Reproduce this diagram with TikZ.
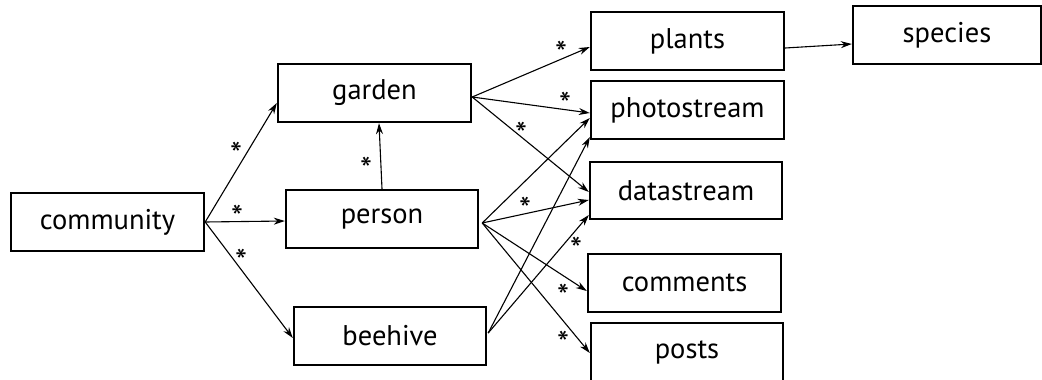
\documentclass[tikz,border=0pt]{standalone}
\usepackage{fontspec}
\setmainfont{PT Sans}
\usetikzlibrary{arrows.meta}
\tikzset{
  box/.style={draw=black, line width=2.4pt, rectangle, inner sep=0pt,
    minimum height=58pt, font=\fontsize{28.5}{32}\selectfont, anchor=center},
  conn/.style={line width=1.1pt, -{Stealth[length=11pt,width=7pt]}},
  star/.style={inner sep=0pt, font=\fontsize{34}{38}\selectfont, yshift=-6pt},
}
\begin{document}
\begin{tikzpicture}[x=1pt,y=-1pt]
\useasboundingbox (0,0) rectangle (1042,380);
\clip (0,0) rectangle (1042,380);
% boxes
\node[box, minimum width=193pt] (community) at (107.5,222) {community};
\node[box, minimum width=193pt] (garden) at (374.5,93) {garden};
\node[box, minimum width=192pt] (person) at (382,219) {person};
\node[box, minimum width=192pt] (beehive) at (390,336) {beehive};
\node[box, minimum width=193pt] (plants) at (687.5,41) {plants};
\node[box, minimum width=193pt] (photostream) at (687.5,110) {photostream};
\node[box, minimum width=192pt, minimum height=57pt] (datastream) at (686,190.5) {datastream};
\node[box, minimum width=193pt] (comments) at (684.5,283) {comments};
\node[box, minimum width=192pt] (posts) at (687,352) {posts};
\node[box, minimum width=188pt] (species) at (947,35) {species};
% connectors
\draw[conn] (community.east) -- ([yshift=-10pt]garden.west);
\draw[conn] (community.east) -- ([yshift=-2pt]person.west);
\draw[conn] (community.east) -- ([yshift=-2pt]beehive.west);
\draw[conn] (person.north) -- ([xshift=4.5pt]garden.south);
\draw[conn] ([yshift=-4pt]garden.east) -- ([yshift=-6pt]plants.west);
\draw[conn] ([yshift=-4pt]garden.east) -- ([yshift=-3pt]photostream.west);
\draw[conn] ([yshift=-4pt]garden.east) -- ([yshift=-1.5pt]datastream.west);
\coordinate (pe) at ([xshift=3pt,yshift=-4pt]person.east);
\draw[conn] (pe) -- ([yshift=-8pt]photostream.west);
\draw[conn] (pe) -- ([yshift=-9.5pt]datastream.west);
\draw[conn] (pe) -- ([yshift=-8pt]comments.west);
\draw[conn] (pe) -- ([yshift=-1pt]posts.west);
\coordinate (be) at ([xshift=1pt,yshift=3pt]beehive.east);
\draw[conn] (be) -- ([yshift=-27pt]photostream.west);
\draw[conn] (be) -- ([yshift=-24.5pt]datastream.west);
\draw[conn] ([yshift=-7pt]plants.east) -- ([yshift=-9pt]species.west);
% multiplicities
\node[star] (s1) at (236,148) {*};
\node[star] (s2) at (237,211) {*};
\node[star] (s3) at (241,255) {*};
\node[star] (s4) at (366,163) {*};
\node[star] (s5) at (561,47) {*};
\node[star] (s6) at (565,98) {*};
\node[star] (s7) at (521,128) {*};
\node[star] (s8) at (525,203) {*};
\node[star] (s9) at (576,243) {*};
\node[star] (s10) at (563,290) {*};
\node[star] (s11) at (563,337) {*};
\end{tikzpicture}
\end{document}
